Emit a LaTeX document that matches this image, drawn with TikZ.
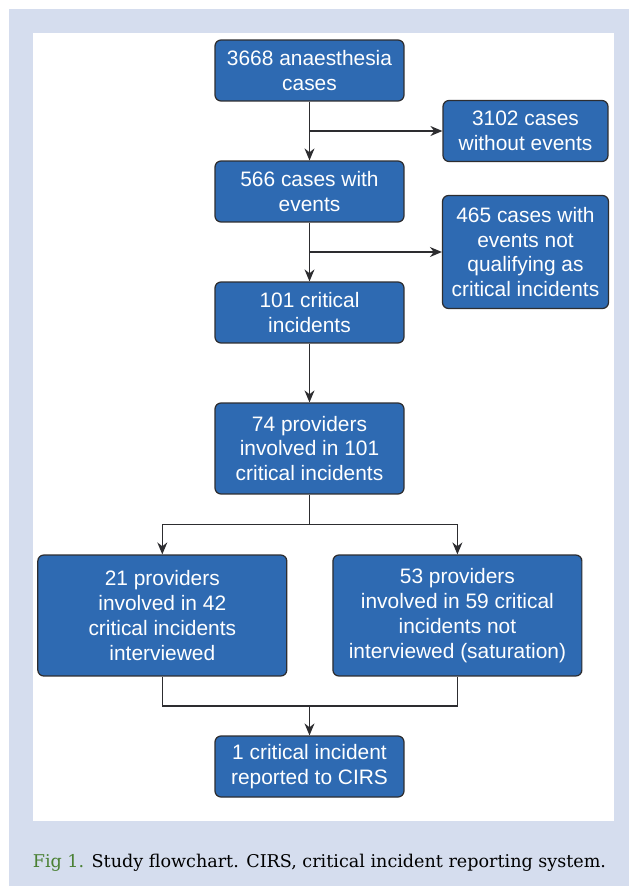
\documentclass[tikz,border=0pt]{standalone}
\usepackage{fontspec}
\setmainfont{Liberation Serif}
\setsansfont{Liberation Sans}
\newfontfamily\capfont{DejaVu Serif}
\usepackage{tikz}
\usetikzlibrary{arrows.meta,positioning}
\usepackage{xcolor}
\definecolor{boxblue}{RGB}{46,106,178}
\definecolor{panelgray}{RGB}{213,221,238}
\definecolor{linegray}{RGB}{45,45,48}
\definecolor{figgreen}{RGB}{74,128,52}

\begin{document}
\begin{tikzpicture}[x=0.02cm, y=-0.02cm,
  box/.style={rectangle,rounded corners=1.2mm,draw=linegray,fill=boxblue,line width=0.7pt,
    text=white,align=center,inner sep=0pt,font=\sffamily\fontsize{11.9}{14.2}\selectfont},
  arr/.style={-{Stealth[length=2.4mm,width=2mm]}}]
  \useasboundingbox (0,0) rectangle (629,886);
  \fill[panelgray] (9,9) rectangle (629,886);
  \fill[white] (32.5,32.7) rectangle (614,821);

  \node[box,minimum width=3.78cm,minimum height=1.22cm] (cases)   at (309.5,70.5)  {3668 anaesthesia\\cases};
  \node[box,minimum width=3.3cm, minimum height=1.22cm] (noevt)   at (525.5,131)   {3102 cases\\without events};
  \node[box,minimum width=3.78cm,minimum height=1.22cm] (events)  at (309.5,191.5) {566 cases with\\events};
  \node[box,minimum width=3.32cm,minimum height=2.26cm] (nonqual) at (525.5,252)   {465 cases with\\events not\\qualifying as\\critical incidents};
  \node[box,minimum width=3.78cm,minimum height=1.22cm] (crit)    at (309.5,312.5) {101 critical\\incidents};
  \node[box,minimum width=3.78cm,minimum height=1.82cm] (prov)    at (309.5,448.5) {74 providers\\involved in 101\\critical incidents};
  \node[box,minimum width=4.98cm,minimum height=2.42cm] (intv)    at (162.3,615.5) {21 providers\\involved in 42\\critical incidents\\interviewed};
  \node[box,minimum width=4.98cm,minimum height=2.42cm] (notintv) at (457.4,615.5) {53 providers\\involved in 59 critical\\incidents not\\interviewed (saturation)};
  \node[box,minimum width=3.78cm,minimum height=1.22cm] (cirs)    at (309.5,766.5) {1 critical incident\\reported to CIRS};

  \coordinate (split) at (309.5,524.3);
  \coordinate (join)  at (309.5,706);

  \draw[arr,linegray,line width=0.7pt] (cases) -- (events);
  \draw[arr,linegray,line width=0.7pt] (cases.south |- noevt.west) -- (noevt.west);
  \draw[arr,linegray,line width=0.7pt] (events) -- (crit);
  \draw[arr,linegray,line width=0.7pt] (events.south |- nonqual.west) -- (nonqual.west);
  \draw[arr,linegray,line width=0.7pt] (crit) -- (prov);
  \draw[linegray,line width=0.7pt] (prov) -- (split);
  \draw[arr,linegray,line width=0.7pt] (split) -| (intv);
  \draw[arr,linegray,line width=0.7pt] (split) -| (notintv);
  \draw[linegray,line width=0.7pt] (intv) |- (join) -| (notintv);
  \draw[arr,linegray,line width=0.7pt] (join) -- (cirs);

  \node[anchor=base west,inner sep=0pt,font=\capfont\fontsize{10}{12}\selectfont] (caption) at (32.5,867)
    {\textcolor{figgreen}{Fig 1.} Study flowchart. CIRS, critical incident reporting system.};
\end{tikzpicture}
\end{document}
